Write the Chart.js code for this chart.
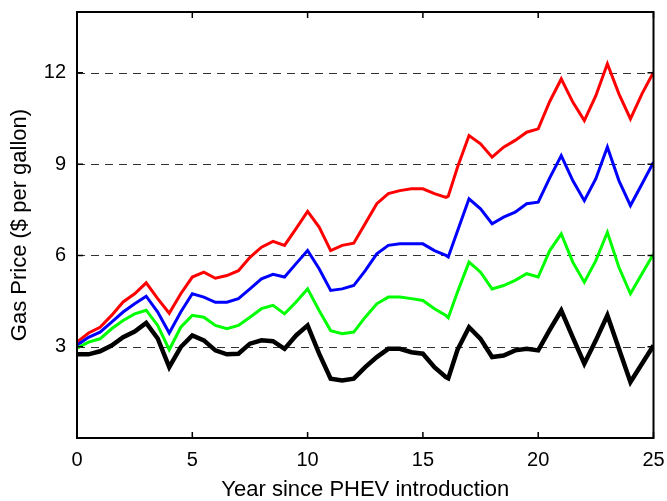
<!DOCTYPE html>
<html>
<head>
<meta charset="utf-8">
<script src="https://cdn.jsdelivr.net/npm/chart.js@4/dist/chart.umd.min.js"></script>
<style>
  html, body { margin: 0; padding: 0; background: #fff; }
  #wrap { width: 667px; height: 501px; }
</style>
</head>
<body>
<div id="wrap"><canvas id="c" width="667" height="501"></canvas></div>
<script>
// Years after PHEV introduction
const years = [0,0.5,1,1.5,2,2.5,3,3.5,4,4.5,5,5.5,6,6.5,7,7.5,8,8.5,9,9.5,10,10.5,11,11.5,12,12.5,13,13.5,14,14.5,15,15.5,16,16.1,16.5,17,17.5,18,18.5,19,19.5,20,20.5,21,21.5,22,22.5,23,23.5,24,24.5,25];

// Gas price paths ($ per gallon)
const redPrice = [3.15,3.45,3.64,4.03,4.47,4.74,5.1,4.58,4.1,4.74,5.29,5.45,5.25,5.34,5.5,5.94,6.27,6.46,6.33,6.88,7.45,6.93,6.16,6.33,6.4,7.05,7.7,8.03,8.13,8.19,8.19,8.03,7.91,7.95,8.9,9.94,9.67,9.23,9.56,9.78,10.05,10.16,11.06,11.8,11.04,10.43,11.25,12.3,11.31,10.49,11.31,12.02];
const bluePrice = [3.05,3.31,3.48,3.81,4.14,4.41,4.66,4.14,3.45,4.14,4.74,4.63,4.46,4.46,4.58,4.9,5.23,5.38,5.29,5.73,6.16,5.56,4.85,4.9,5.01,5.5,6.05,6.33,6.38,6.38,6.38,6.16,6.0,5.95,6.8,7.86,7.53,7.04,7.26,7.42,7.7,7.75,8.55,9.28,8.46,7.8,8.52,9.56,8.46,7.64,8.35,9.06];
const greenPrice = [2.95,3.15,3.26,3.59,3.86,4.08,4.2,3.7,2.9,3.64,4.03,3.97,3.7,3.59,3.7,3.97,4.25,4.36,4.08,4.47,4.9,4.19,3.53,3.43,3.48,3.97,4.41,4.63,4.63,4.58,4.52,4.25,4.03,3.95,4.8,5.78,5.45,4.9,5.01,5.18,5.4,5.29,6.16,6.71,5.78,5.12,5.83,6.76,5.61,4.74,5.4,6.05];
const blackPrice = [2.75,2.75,2.85,3.04,3.31,3.5,3.78,3.27,2.33,2.99,3.37,3.21,2.88,2.75,2.77,3.1,3.21,3.18,2.93,3.37,3.7,2.77,1.95,1.89,1.95,2.33,2.66,2.93,2.93,2.82,2.77,2.33,2.0,1.96,2.9,3.64,3.26,2.66,2.71,2.88,2.93,2.88,3.55,4.19,3.31,2.44,3.21,4.03,2.93,1.84,2.44,3.04];

const xTicks = [0, 5, 10, 15, 20, 25];
const yTicks = [3, 6, 9, 12];

const FONT = "'Liberation Sans', Arial, sans-serif";

function pts(vals) {
  return years.map((x, i) => ({ x: x, y: vals[i] }));
}

// Dashed horizontal grid, framed box and inward tick marks
const framePlugin = {
  id: 'frame',
  beforeDatasetsDraw(chart) {
    const { ctx, chartArea: a, scales: { y } } = chart;
    ctx.save();
    ctx.strokeStyle = '#333';
    ctx.lineWidth = 1;
    ctx.setLineDash([8, 6]);
    yTicks.forEach(v => {
      const py = Math.round(y.getPixelForValue(v)) + 0.5;
      ctx.beginPath();
      ctx.moveTo(a.left, py);
      ctx.lineTo(a.right, py);
      ctx.stroke();
    });
    ctx.restore();
  },
  afterDraw(chart) {
    const { ctx, chartArea: a, scales: { x, y } } = chart;
    ctx.save();
    ctx.strokeStyle = '#000';
    ctx.lineWidth = 2;
    ctx.setLineDash([]);
    ctx.strokeRect(a.left, a.top, a.right - a.left, a.bottom - a.top);
    ctx.lineWidth = 1.5;
    xTicks.forEach(v => {
      const px = x.getPixelForValue(v);
      ctx.beginPath();
      ctx.moveTo(px, a.bottom);
      ctx.lineTo(px, a.bottom - 6);
      ctx.moveTo(px, a.top);
      ctx.lineTo(px, a.top + 6);
      ctx.stroke();
    });
    yTicks.forEach(v => {
      const py = y.getPixelForValue(v);
      ctx.beginPath();
      ctx.moveTo(a.left, py);
      ctx.lineTo(a.left + 6, py);
      ctx.moveTo(a.right, py);
      ctx.lineTo(a.right - 6, py);
      ctx.stroke();
    });
    ctx.restore();
  }
};

const line = (data, color, width, order) => ({
  data: pts(data),
  borderColor: color,
  backgroundColor: color,
  borderWidth: width,
  pointRadius: 0,
  tension: 0,
  fill: false,
  order: order
});

new Chart(document.getElementById('c'), {
  type: 'line',
  data: {
    datasets: [
      line(redPrice, '#ff0000', 3, 4),
      line(bluePrice, '#0000ff', 3, 3),
      line(greenPrice, '#00ff00', 3, 2),
      line(blackPrice, '#000000', 4.5, 1)
    ]
  },
  options: {
    responsive: false,
    animation: false,
    devicePixelRatio: 1,
    layout: { padding: { left: 0, right: 13.5, top: 12, bottom: 0 } },
    plugins: { legend: { display: false }, tooltip: { enabled: false } },
    scales: {
      x: {
        type: 'linear',
        min: 0,
        max: 25,
        afterBuildTicks: s => { s.ticks = xTicks.map(v => ({ value: v })); },
        afterFit: s => { s.height = 63; s.paddingLeft = 0; s.paddingRight = 0; },
        grid: { display: false, drawTicks: false },
        border: { display: false },
        ticks: { color: '#000', padding: 10, maxRotation: 0, font: { family: FONT, size: 20 } },
        title: {
          display: true,
          text: 'Year since PHEV introduction',
          color: '#000',
          font: { family: FONT, size: 22 },
          padding: { top: 0, bottom: -2 }
        }
      },
      y: {
        type: 'linear',
        min: 0,
        max: 14,
        afterBuildTicks: s => { s.ticks = yTicks.map(v => ({ value: v })); },
        afterFit: s => { s.width = 77; s.paddingTop = 0; s.paddingBottom = 0; },
        grid: { display: false, drawTicks: false },
        border: { display: false },
        ticks: { color: '#000', padding: 11, font: { family: FONT, size: 20 } },
        title: {
          display: true,
          text: 'Gas Price ($ per gallon)',
          color: '#000',
          font: { family: FONT, size: 22 },
          padding: { top: 7, bottom: 0 }
        }
      }
    }
  },
  plugins: [framePlugin]
});
</script>
</body>
</html>
